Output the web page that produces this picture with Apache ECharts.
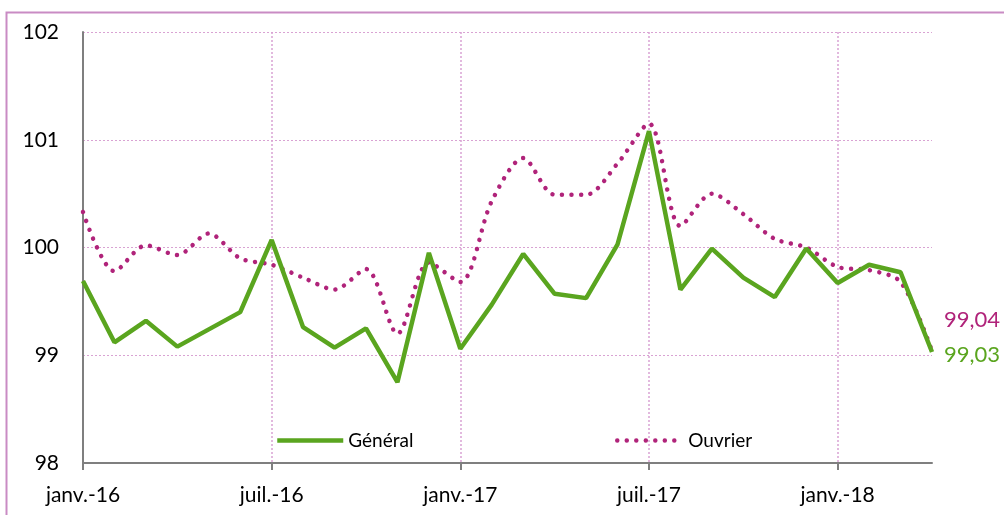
<!DOCTYPE html>
<html lang="fr">
<head>
<meta charset="UTF-8">
<title>Général / Ouvrier</title>
<script src="https://cdn.jsdelivr.net/npm/echarts@6/dist/echarts.min.js"></script>
<style>
    html, body, #chart {
        margin: 0;
        padding: 0;
        width: 1004px;
        height: 515px;
        background: #fff;
    }
</style>
</head>
<body>
<div id="chart"></div>
<script>
    const months = [
        'janv.-16', 'févr.-16', 'mars-16', 'avr.-16', 'mai-16', 'juin-16',
        'juil.-16', 'août-16', 'sept.-16', 'oct.-16', 'nov.-16', 'déc.-16',
        'janv.-17', 'févr.-17', 'mars-17', 'avr.-17', 'mai-17', 'juin-17',
        'juil.-17', 'août-17', 'sept.-17', 'oct.-17', 'nov.-17', 'déc.-17',
        'janv.-18', 'févr.-18', 'mars-18', 'avr.-18'
    ];
    const general = [
        99.69, 99.12, 99.32, 99.08, 99.24, 99.40,
        100.07, 99.26, 99.07, 99.25, 98.75, 99.95,
        99.06, 99.47, 99.94, 99.57, 99.53, 100.03,
        101.08, 99.61, 99.99, 99.72, 99.54, 99.99,
        99.67, 99.84, 99.77, 99.03
    ];
    const ouvrier = [
        100.33, 99.78, 100.02, 99.93, 100.13, 99.90,
        99.84, 99.72, 99.61, 99.80, 99.20, 99.86,
        99.68, 100.43, 100.83, 100.49, 100.49, 100.78,
        101.15, 100.20, 100.50, 100.31, 100.08, 100.00,
        99.82, 99.79, 99.68, 99.04
    ];

    const green = '#5aa51f';
    const purple = '#b0237a';
    const gridColor = '#d9a3d3';
    const font = 'Lato, "Open Sans", sans-serif';

    const chart = echarts.init(document.getElementById('chart'));

    function comma(v) {
        return v.toFixed(2).replace('.', ',');
    }

    // legend: line only, no circle marker
    const legendBase = {
        top: 426,
        itemWidth: 66,
        itemHeight: 18,
        itemGap: 6,
        itemStyle: { opacity: 0, borderWidth: 0 },
        lineStyle: { width: 4.5 },
        textStyle: { fontFamily: font, fontSize: 19, color: '#000' }
    };

    chart.setOption({
        animation: false,
        textStyle: { fontFamily: font },
        grid: { left: 83, right: 72, top: 32, bottom: 52 },
        graphic: [{
            type: 'rect',
            left: 4,
            top: 10,
            shape: { width: 1020, height: 530 },
            style: { fill: 'none', stroke: '#c98bc4', lineWidth: 2 },
            silent: true
        }],
        legend: [
            Object.assign({ data: ['Général'], left: 270 }, legendBase),
            Object.assign({ data: ['Ouvrier'], left: 610 }, legendBase)
        ],
        xAxis: {
            type: 'category',
            data: months,
            boundaryGap: false,
            axisLine: { lineStyle: { color: '#7f7f7f', width: 2 } },
            axisTick: { interval: 5, length: 7, lineStyle: { color: '#7f7f7f', width: 2 } },
            axisLabel: { interval: 5, margin: 22, fontSize: 21, color: '#000', fontFamily: font },
            splitLine: {
                show: true,
                interval: 5,
                lineStyle: { color: gridColor, type: [2, 2], width: 1.5 }
            }
        },
        yAxis: {
            type: 'value',
            min: 98,
            max: 102,
            interval: 1,
            axisLine: { show: true, lineStyle: { color: '#7f7f7f', width: 2 } },
            axisTick: { show: false },
            axisLabel: { margin: 24, fontSize: 21, color: '#000', fontFamily: font },
            splitLine: { lineStyle: { color: gridColor, type: [2, 2], width: 1 } }
        },
        series: [{
            name: 'Ouvrier',
            type: 'line',
            data: ouvrier,
            smooth: 0.3,
            symbol: 'none',
            z: 2,
            lineStyle: { color: purple, width: 4.5, type: [0.01, 9.5], cap: 'round' },
            itemStyle: { color: purple },
            endLabel: {
                show: true,
                formatter: function (p) { return comma(p.value); },
                offset: [4, -31],
                fontSize: 22,
                color: purple,
                fontFamily: font
            }
        }, {
            name: 'Général',
            type: 'line',
            data: general,
            symbol: 'none',
            z: 3,
            lineStyle: { color: green, width: 4.5 },
            itemStyle: { color: green },
            endLabel: {
                show: true,
                formatter: function (p) { return comma(p.value); },
                offset: [4, 3],
                fontSize: 22,
                color: green,
                fontFamily: font
            }
        }]
    });
</script>
</body>
</html>
